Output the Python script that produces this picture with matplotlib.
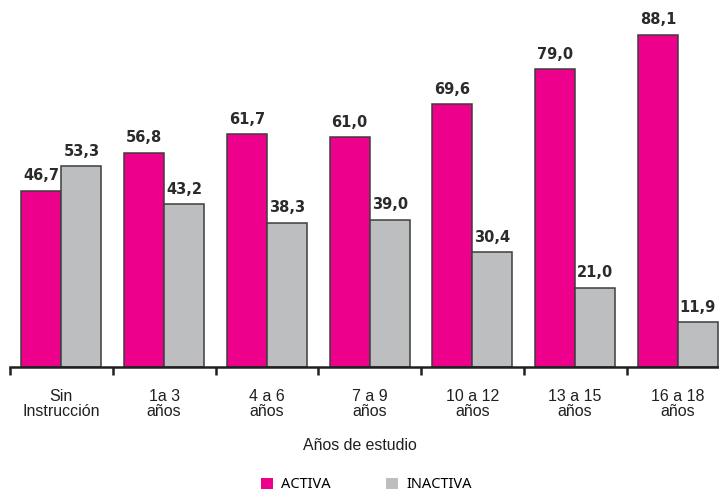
import matplotlib
matplotlib.use("Agg")
import matplotlib.pyplot as plt
import numpy as np

categories = ["Sin\nInstrucción", "1a 3\naños", "4 a 6\naños", "7 a 9\naños",
              "10 a 12\naños", "13 a 15\naños", "16 a 18\naños"]
activa = [46.7, 56.8, 61.7, 61.0, 69.6, 79.0, 88.1]
inactiva = [53.3, 43.2, 38.3, 39.0, 30.4, 21.0, 11.9]
series_names = ["ACTIVA", "INACTIVA"]
colors = ["#EC008C", "#BCBEC0"]

fig = plt.figure(figsize=(7.19, 4.92), dpi=100)
ax = fig.add_axes([10/719, 1-367/492, 1-10/719, 367/492])

x = np.arange(len(categories))
w = 0.39
b1 = ax.bar(x - w/2, activa, w, color=colors[0], edgecolor="#3d3d3d", linewidth=1.1, label=series_names[0])
b2 = ax.bar(x + w/2, inactiva, w, color=colors[1], edgecolor="#3d3d3d", linewidth=1.1, label=series_names[1])

for xs, vals in ((x - w/2, activa), (x + w/2, inactiva)):
    for xi, v in zip(xs, vals):
        ax.annotate(f"{v:.1f}".replace(".", ","), (xi, v), xytext=(0, 7.5),
                    textcoords="offset points", ha="center", va="baseline",
                    fontsize=10.5, fontweight="bold", color="#2b2b2b", family="DejaVu Sans")

for s in ["top", "right", "left"]:
    ax.spines[s].set_visible(False)
ax.spines["bottom"].set_linewidth(1.8)
ax.spines["bottom"].set_color("#231F20")
ax.set_yticks([])
ax.set_xticks(np.arange(-0.5, 6.0, 1.0))
ax.set_xticklabels([])
ax.tick_params(axis="x", direction="out", length=6, width=1.8, color="#231F20")
ax.set_xticks(x, minor=True)
ax.set_xticklabels(categories, minor=True, fontsize=11.5, family="Liberation Sans", color="#231F20")
ax.tick_params(axis="x", which="minor", length=0, pad=16)
for t in ax.get_xticklabels(minor=True):
    t.set_linespacing(1.0)
ax.set_xlim(-0.5, 6.4)
ax.set_ylim(0, 97.3)

fig.text(0.5, 1-445/492, "Años de estudio", ha="center", va="center",
         fontsize=11.4, family="Liberation Sans", color="#231F20")

leg = fig.legend(handles=[b1, b2], labels=series_names, loc="center",
                 bbox_to_anchor=(0.51, 1-485/492), ncol=2, frameon=False,
                 handlelength=0.82, handleheight=0.82, columnspacing=3.8, handletextpad=0.55,
                 prop={"family": "Noto Sans", "size": 10.5})
for h in leg.legend_handles:
    h.set_edgecolor("none")

fig.savefig("out.png", dpi=100)
